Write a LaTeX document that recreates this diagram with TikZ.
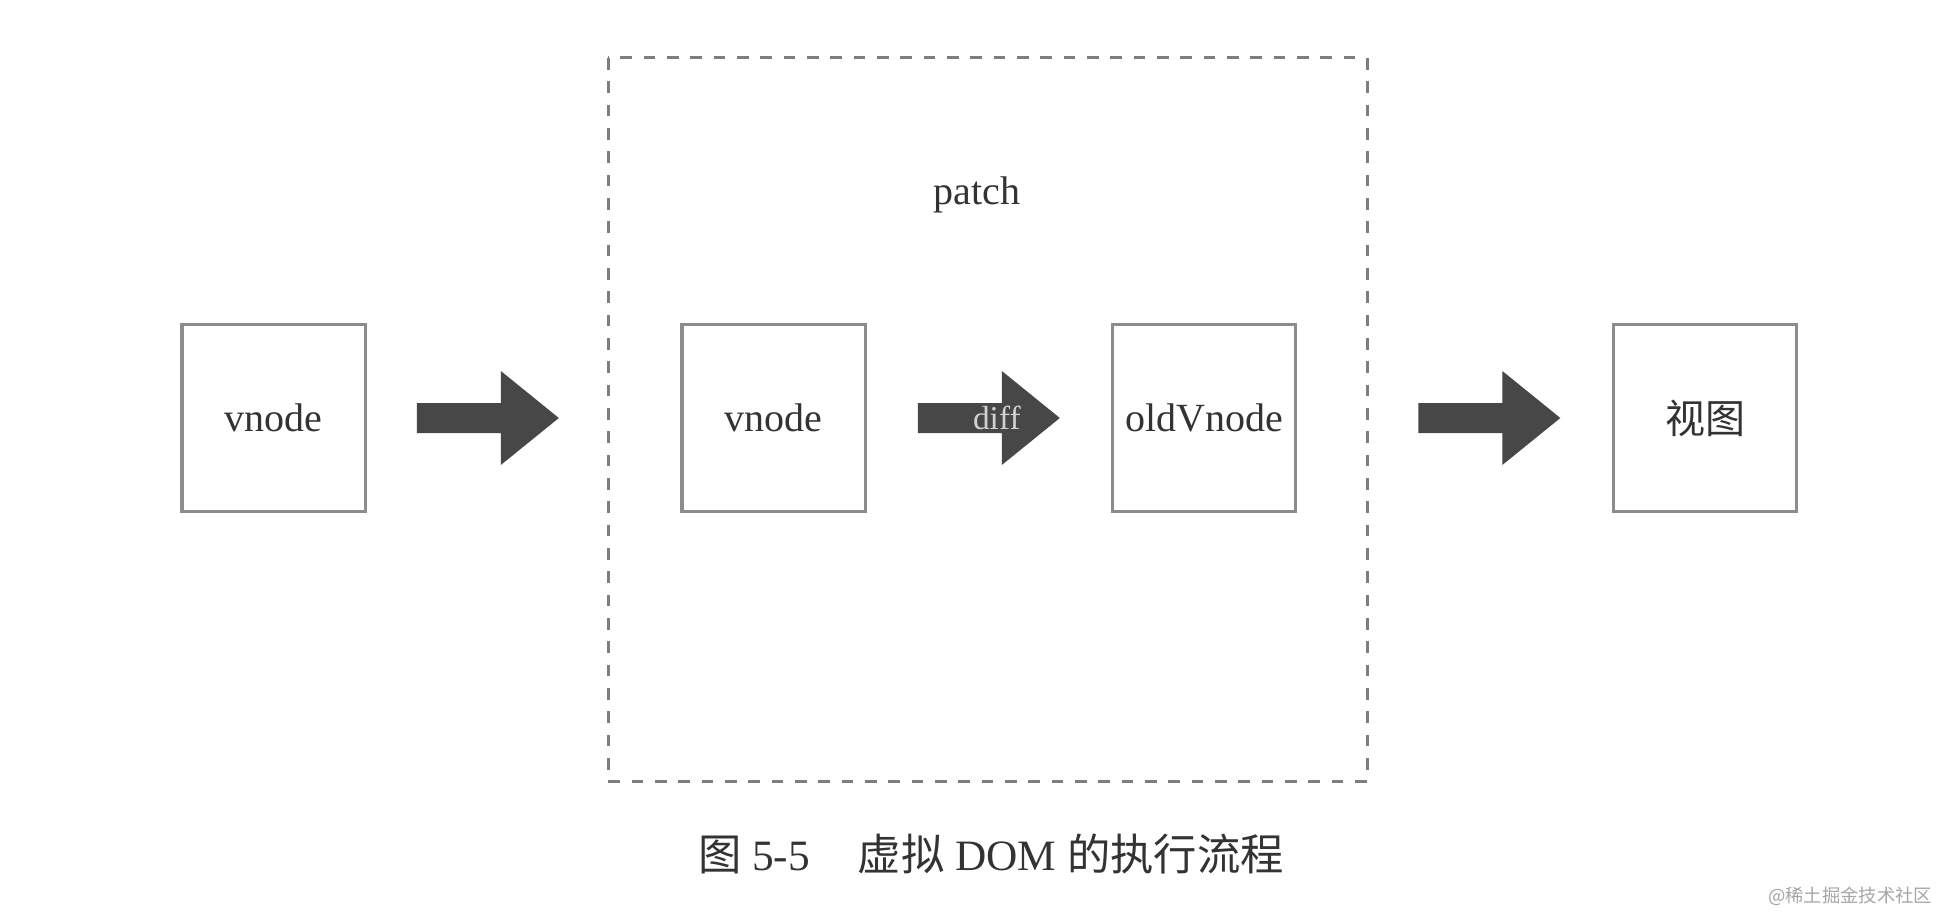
\documentclass[tikz,border=0pt]{standalone}
\usepackage{fontspec}
\setmainfont{Liberation Serif}
\newfontfamily\cjk{Noto Sans CJK SC}
\usetikzlibrary{calc}
\definecolor{boxline}{HTML}{8C8C8C}
\definecolor{arrowfill}{HTML}{474747}
\definecolor{txt}{HTML}{333333}
% 粗箭头：起点 #1，总长 142
\newcommand{\fatarrow}[1]{%
  \fill[arrowfill] #1 ++(0,-15) -- ++(84,0) -- ++(0,-32) -- ++(58,47)
    -- ++(-58,47) -- ++(0,-32) -- ++(-84,0) -- cycle;}
\begin{document}
\begin{tikzpicture}[x=0.3pt, y=-0.3pt,
    nodebox/.style={draw=boxline, line width=1pt, fill=white, minimum width=55pt,
      minimum height=56pt, text=txt, font=\fontsize{12}{14}\selectfont},
    patchframe/.style={draw=boxline!90!black, line width=0.9pt, dash pattern=on 3.5pt off 3.5pt}]
  \useasboundingbox[fill=white] (0,0) rectangle (1952,912);

  % 虚线框
  \draw[patchframe] (608,58) rectangle (1367,781);
  \node[text=txt, font=\fontsize{12}{14}\selectfont] (patch) at (977,195) {patch};

  % 节点
  \node[nodebox] (v1) at (273.5,418) {vnode};
  \node[nodebox] (v2) at (773.5,418) {vnode};
  \node[nodebox] (old) at (1204,418) {oldVnode};
  \node[nodebox] (view) at (1705,418) {\cjk 视图};

  % 箭头
  \fatarrow{($(v2.east)+(51,0)$)}
  \fatarrow{($(v1.east)+(50,0)$)}
  \fatarrow{($(old.east)+(121,0)$)}
  \node[text=black!18, font=\fontsize{10}{12}\selectfont] (difflbl) at ($(v2.east)+(130,0)$) {diff};

  % 图题
  \node[text=txt, font=\fontsize{13}{15}\selectfont] (caption) at (991,854)
    {{\cjk 图} 5-5\hspace{1.1em}{\cjk 虚拟} DOM {\cjk 的执行流程}};
  \node[text=black!35, font=\fontsize{5.5}{6}\selectfont, anchor=east] (mark) at (1944,896)
    {\cjk @稀土掘金技术社区};
\end{tikzpicture}
\end{document}
